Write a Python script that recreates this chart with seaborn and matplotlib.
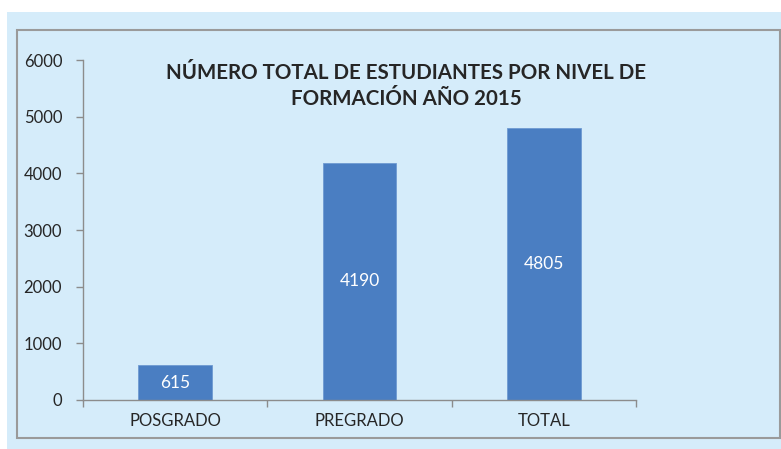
import matplotlib
matplotlib.use("Agg")
import matplotlib.pyplot as plt
from matplotlib.patches import Rectangle
import seaborn as sns
import pandas as pd

categories = ["POSGRADO", "PREGRADO", "TOTAL"]
values = [615, 4190, 4805]
title_text = "NÚMERO TOTAL DE ESTUDIANTES POR NIVEL DE\nFORMACIÓN AÑO 2015"
yticks = [0, 1000, 2000, 3000, 4000, 5000, 6000]

sns.set_theme(style="white")
plt.rcParams['font.family'] = ['Lato', 'DejaVu Sans']

W, H = 781, 449
fig = plt.figure(figsize=(W / 100, H / 100), dpi=100)
fig.patch.set_facecolor("white")

bg = "#D5ECFA"
fig.patches.append(Rectangle((7 / W, 0), 1 - 7 / W, 1 - 12 / H, transform=fig.transFigure,
                             facecolor=bg, edgecolor="none", zorder=-10))
fig.patches.append(Rectangle((17 / W, 1 - 438 / H), (780 - 17) / W, (438 - 30) / H,
                             transform=fig.transFigure, facecolor="none",
                             edgecolor="#9A9A9A", linewidth=1.5, zorder=-5))

ax = fig.add_axes([83 / W, 1 - 400 / H, (636 - 83) / W, (400 - 60) / H])
ax.set_facecolor("none")

df = pd.DataFrame({"cat": categories, "val": values})
sns.barplot(data=df, x="cat", y="val", color="#4A7EC2", saturation=1, width=0.40, ax=ax,
            edgecolor="#6E9AD2", linewidth=0.6)
ax.bar_label(ax.containers[0], labels=[str(v) for v in values], label_type="center",
             color="white", fontsize=12.5)

ax.set_ylim(0, 6000)
ax.set_xlim(-0.5, 2.5)
ax.set_yticks(yticks)
ax.set_yticklabels([str(t) for t in yticks], fontsize=12, color="#262626")
ax.set_xticks(range(len(categories)))
ax.set_xticklabels(categories, fontsize=12, color="#262626")
ax.set_xticks([-0.5, 0.5, 1.5, 2.5], minor=True)
ax.tick_params(axis="x", which="major", length=0, pad=9)
ax.tick_params(axis="x", which="minor", length=5, width=1, color="#8C8C8C", direction="out", bottom=True)
ax.tick_params(axis="y", length=5, width=1, color="#8C8C8C", direction="out", left=True, pad=10)
ax.set_xlabel("")
ax.set_ylabel("")
for s in ["top", "right"]:
    ax.spines[s].set_visible(False)
for s in ["left", "bottom"]:
    ax.spines[s].set_color("#8C8C8C")
    ax.spines[s].set_linewidth(1)

fig.text(406 / W, 1 - 86 / H, title_text, ha="center", va="center", fontsize=14.8,
         fontweight="bold", color="#262626", linespacing=1.4)

fig.savefig("out.png", dpi=100, facecolor=fig.get_facecolor())
